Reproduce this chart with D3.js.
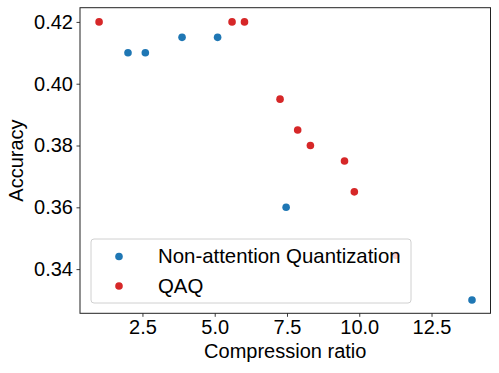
<!DOCTYPE html>
<html>
<head>
<meta charset="utf-8">
<script src="https://cdn.jsdelivr.net/npm/d3@7"></script>
<style>
  html, body { margin: 0; padding: 0; background: #fff; }
  svg { display: block; font-family: "Liberation Sans", Arial, sans-serif; }
</style>
</head>
<body>
<svg id="chart" width="499" height="373"></svg>
<script>
const seriesNames = ["Non-attention Quantization", "QAQ"];
const seriesColors = ["#1f77b4", "#d62728"];
const nonAttnX = [2.0, 2.6, 3.87, 5.1, 7.47, 13.9];
const nonAttnY = [0.410, 0.410, 0.415, 0.415, 0.360, 0.330];
const qaqX = [1.0, 5.6, 6.03, 7.26, 7.87, 8.31, 9.49, 9.83, 11.27];
const qaqY = [0.420, 0.420, 0.420, 0.395, 0.385, 0.380, 0.375, 0.365, 0.3445];
const xTicks = [2.5, 5.0, 7.5, 10.0, 12.5];
const yTicks = [0.34, 0.36, 0.38, 0.40, 0.42];
const xDomain = [0.34, 14.54];
const yDomain = [0.3257, 0.4246];

(function () {
const svg = d3.select("#chart");
const pL = 80, pR = 490.5, pT = 7.7, pB = 313.3;

const x = d3.scaleLinear().domain(xDomain).range([pL, pR]);
const y = d3.scaleLinear().domain(yDomain).range([pB, pT]);

const series = [
  {name: seriesNames[0], color: seriesColors[0], xs: nonAttnX, ys: nonAttnY},
  {name: seriesNames[1], color: seriesColors[1], xs: qaqX, ys: qaqY}
];
series.forEach(s => {
  svg.append("g").selectAll("circle")
    .data(s.xs.map((v, i) => [v, s.ys[i]]))
    .join("circle")
    .attr("cx", d => x(d[0]))
    .attr("cy", d => y(d[1]))
    .attr("r", 3.8)
    .attr("fill", s.color);
});

const xAxis = d3.axisBottom(x).tickValues(xTicks).tickFormat(d3.format(".1f")).tickSize(3.5).tickPadding(3.5);
const yAxis = d3.axisLeft(y).tickValues(yTicks).tickFormat(d3.format(".2f")).tickSize(3.5).tickPadding(3.5);

const gx = svg.append("g").attr("transform", `translate(0,${pB})`).call(xAxis);
const gy = svg.append("g").attr("transform", `translate(${pL},0)`).call(yAxis);
[gx, gy].forEach(g => {
  g.select(".domain").remove();
  g.selectAll(".tick line").attr("stroke", "#222").attr("stroke-width", 0.9);
  g.selectAll(".tick text").attr("font-size", 20).attr("fill", "#000")
    .attr("font-family", "'Liberation Sans', Arial, sans-serif");
});

svg.append("rect")
  .attr("x", pL).attr("y", pT)
  .attr("width", pR - pL).attr("height", pB - pT)
  .attr("fill", "none").attr("stroke", "#222").attr("stroke-width", 1);

svg.append("text")
  .attr("x", (pL + pR) / 2).attr("y", 358)
  .attr("text-anchor", "middle").attr("font-size", 20).attr("fill", "#000")
  .text("Compression ratio");
svg.append("text")
  .attr("transform", `translate(23,${(pT + pB) / 2}) rotate(-90)`)
  .attr("text-anchor", "middle").attr("font-size", 20).attr("fill", "#000")
  .text("Accuracy");

const lg = svg.append("g");
lg.append("rect")
  .attr("x", 91).attr("y", 239).attr("width", 320).attr("height", 64)
  .attr("rx", 3).attr("fill", "#fff").attr("fill-opacity", 0.8)
  .attr("stroke", "#d0d0d0").attr("stroke-width", 1);
series.forEach((s, i) => {
  const cy = 256.5 + i * 29.5;
  lg.append("circle").attr("cx", 119).attr("cy", cy).attr("r", 3.8).attr("fill", s.color);
  lg.append("text").attr("x", 158).attr("y", cy + 6.5)
    .attr("font-size", 20.4).attr("fill", "#000").text(s.name);
});
})();
</script>
</body>
</html>
